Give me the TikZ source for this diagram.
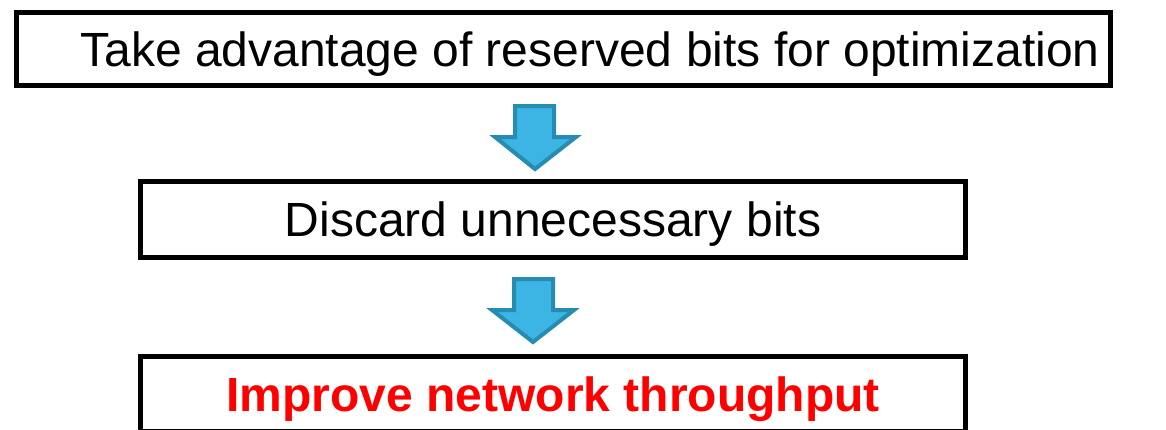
\documentclass[tikz,border=0pt]{standalone}
\usepackage{fontspec}
\setmainfont{Liberation Sans}
\definecolor{arrowfill}{RGB}{60,181,228}
\definecolor{arrowline}{RGB}{38,140,178}
\definecolor{hired}{RGB}{255,0,0}
\begin{document}
\begin{tikzpicture}
  [x=1pt,y=-1pt,
   stepbox/.style={draw=black,line width=5pt,rectangle,inner sep=0pt,text height=34.4pt,text depth=0pt,font=\fontsize{48}{58}\selectfont},
   steptext/.style={inner sep=0pt,text height=34.4pt,text depth=0pt,font=\fontsize{48}{58}\selectfont},
   blockarrow/.style={draw=arrowline,fill=arrowfill,line width=4pt,line join=miter}]
  \useasboundingbox (0,0) rectangle (1166,429);
  \node[stepbox,minimum width=1094pt,minimum height=73pt] (s1) at (563.5,49) {};
  \node[steptext] (t1) at (590,49) {Take advantage of reserved bits for optimization};
  \node[stepbox,minimum width=825pt,minimum height=76pt] (s2) at (553,219.5) {Discard unnecessary bits};
  \node[stepbox,minimum width=825pt,minimum height=75.4pt,text=hired,font=\fontsize{48}{58}\selectfont\bfseries,text height=35pt] (s3) at (553,394.2) {Improve network throughput};

  % block arrows between the steps
  \draw[blockarrow] (515,106) -- (554,106) -- (554,137) -- (576,137) -- (535,169) -- (495,137) -- (515,137) -- cycle;
  \draw[blockarrow] (514,279) -- (553,279) -- (553,310) -- (574,310) -- (533,342) -- (492,310) -- (514,310) -- cycle;
\end{tikzpicture}
\end{document}
